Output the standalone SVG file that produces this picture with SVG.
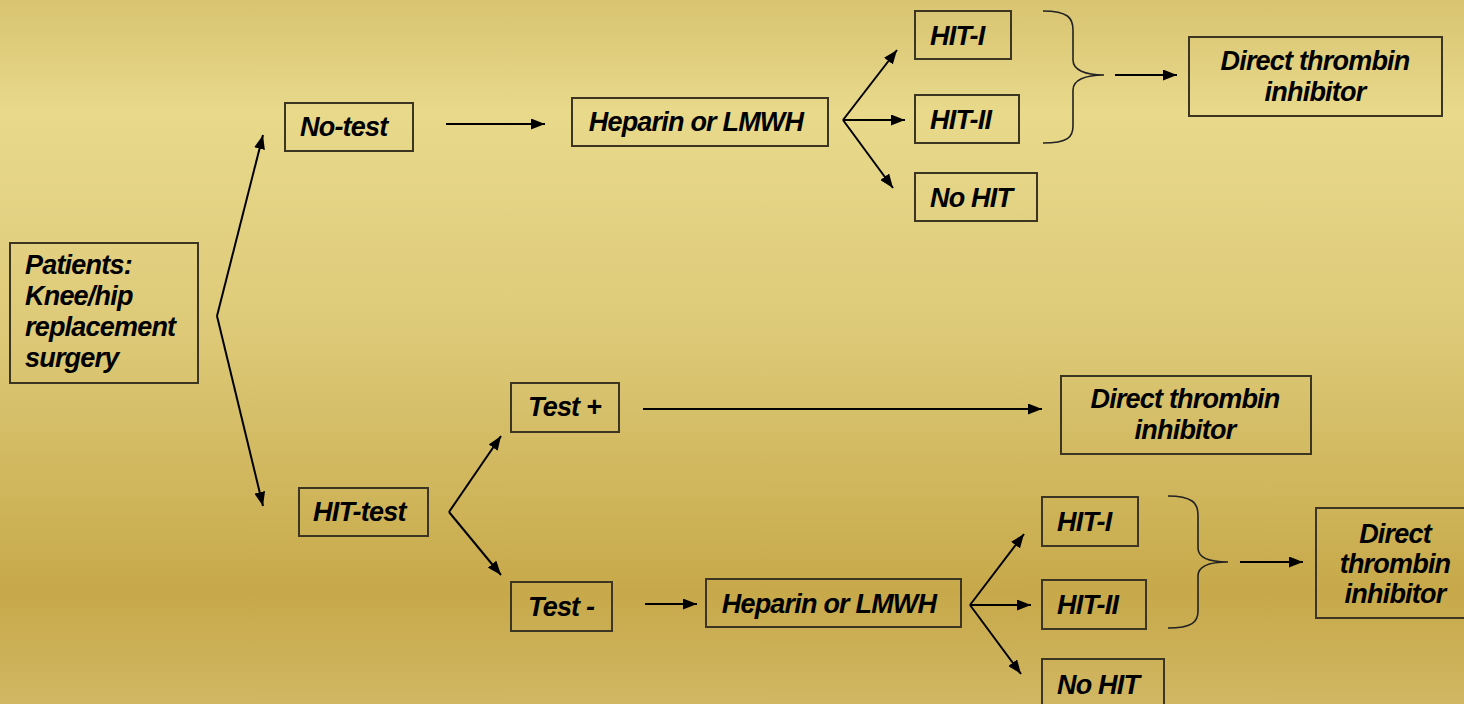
<svg xmlns="http://www.w3.org/2000/svg" width="1464" height="704" viewBox="0 0 1464 704">
  <defs>
    <linearGradient id="bg" x1="0" y1="0" x2="0" y2="1">
      <stop offset="0" stop-color="#D8C471"/>
      <stop offset="0.16" stop-color="#E8D98B"/>
      <stop offset="0.45" stop-color="#DECB7A"/>
      <stop offset="0.84" stop-color="#C7A94A"/>
      <stop offset="1" stop-color="#D1B763"/>
    </linearGradient>
    <marker id="arrow" viewBox="0 0 14 11" refX="14" refY="5.5" markerWidth="14" markerHeight="11" markerUnits="userSpaceOnUse" orient="auto">
      <path d="M0,0 L14,5.5 L0,11 Z" fill="#000"/>
    </marker>
    <style>
      .box { fill: none; stroke: #3B3521; stroke-width: 2; }
      .lbl { font-family: "Liberation Sans", Arial, sans-serif; font-weight: bold; font-style: italic; font-size: 27px; letter-spacing: -0.8px; fill: #000; }
      .mid { text-anchor: middle; }
      .arr { fill: none; stroke: #000; stroke-width: 2; marker-end: url(#arrow); }
      .brace { fill: none; stroke: #222; stroke-width: 1.6; }
    </style>
  </defs>

  <rect x="0" y="0" width="1464" height="704" fill="url(#bg)"/>

  <!-- connectors -->
  <g id="connectors">
    <line class="arr" x1="217" y1="316" x2="263" y2="135"/>
    <line class="arr" x1="217" y1="316" x2="263" y2="506"/>

    <line class="arr" x1="446" y1="124" x2="545" y2="124"/>
    <line class="arr" x1="843" y1="120" x2="897" y2="50"/>
    <line class="arr" x1="843" y1="120" x2="905" y2="120"/>
    <line class="arr" x1="843" y1="120" x2="893" y2="188"/>
    <path class="brace" d="M1043,11 C1068,11 1073,18 1073,30 L1073,60 C1073,70 1085,75 1104,75 C1085,75 1073,80 1073,90 L1073,126 C1073,137 1068,143 1043,143"/>
    <line class="arr" x1="1115" y1="75" x2="1177" y2="75"/>

    <line class="arr" x1="449" y1="512" x2="501" y2="436"/>
    <line class="arr" x1="449" y1="512" x2="501" y2="575"/>
    <line class="arr" x1="643" y1="409" x2="1042" y2="409"/>
    <line class="arr" x1="645" y1="604" x2="697" y2="604"/>
    <line class="arr" x1="970" y1="605" x2="1024" y2="534"/>
    <line class="arr" x1="970" y1="605" x2="1031" y2="605"/>
    <line class="arr" x1="970" y1="605" x2="1021" y2="674"/>
    <path class="brace" d="M1168,496 C1192,496 1198,503 1198,515 L1198,548 C1198,557 1208,562 1228,562 C1208,562 1198,567 1198,576 L1198,611 C1198,622 1192,628 1168,628"/>
    <line class="arr" x1="1240" y1="562" x2="1303" y2="562"/>
  </g>

  <!-- nodes -->
  <g id="patients">
    <rect class="box" x="10" y="243" width="188" height="140"/>
    <text class="lbl" x="25" y="274">Patients:</text>
    <text class="lbl" x="25" y="305">Knee/hip</text>
    <text class="lbl" x="25" y="336">replacement</text>
    <text class="lbl" x="25" y="367">surgery</text>
  </g>

  <g id="no-test">
    <rect class="box" x="285" y="103" width="128" height="48"/>
    <text class="lbl" x="300" y="136">No-test</text>
  </g>

  <g id="heparin-1">
    <rect class="box" x="572" y="98" width="256" height="48"/>
    <text class="lbl mid" x="696" y="131">Heparin or LMWH</text>
  </g>

  <g id="hit1-1">
    <rect class="box" x="915" y="11" width="96" height="48"/>
    <text class="lbl" x="930" y="45">HIT-I</text>
  </g>

  <g id="hit2-1">
    <rect class="box" x="915" y="95" width="104" height="48"/>
    <text class="lbl" x="930" y="129">HIT-II</text>
  </g>

  <g id="nohit-1">
    <rect class="box" x="915" y="173" width="122" height="48"/>
    <text class="lbl" x="930" y="207">No HIT</text>
  </g>

  <g id="dti-1">
    <rect class="box" x="1189" y="37" width="253" height="79"/>
    <text class="lbl mid" x="1315" y="70">Direct thrombin</text>
    <text class="lbl mid" x="1315" y="101">inhibitor</text>
  </g>

  <g id="hit-test">
    <rect class="box" x="299" y="488" width="129" height="48"/>
    <text class="lbl" x="313" y="521">HIT-test</text>
  </g>

  <g id="test-pos">
    <rect class="box" x="511" y="383" width="108" height="49"/>
    <text class="lbl" x="528" y="416">Test +</text>
  </g>

  <g id="dti-2">
    <rect class="box" x="1061" y="376" width="250" height="78"/>
    <text class="lbl mid" x="1185" y="408">Direct thrombin</text>
    <text class="lbl mid" x="1185" y="439">inhibitor</text>
  </g>

  <g id="test-neg">
    <rect class="box" x="511" y="582" width="101" height="49"/>
    <text class="lbl" x="528" y="616">Test -</text>
  </g>

  <g id="heparin-2">
    <rect class="box" x="706" y="579" width="255" height="48"/>
    <text class="lbl mid" x="829" y="613">Heparin or LMWH</text>
  </g>

  <g id="hit1-2">
    <rect class="box" x="1042" y="497" width="96" height="49"/>
    <text class="lbl" x="1057" y="531">HIT-I</text>
  </g>

  <g id="hit2-2">
    <rect class="box" x="1042" y="580" width="104" height="49"/>
    <text class="lbl" x="1057" y="614">HIT-II</text>
  </g>

  <g id="nohit-2">
    <rect class="box" x="1042" y="659" width="122" height="60"/>
    <text class="lbl" x="1057" y="694">No HIT</text>
  </g>

  <g id="dti-3">
    <rect class="box" x="1316" y="508" width="160" height="110"/>
    <text class="lbl mid" x="1395" y="543">Direct</text>
    <text class="lbl mid" x="1395" y="573">thrombin</text>
    <text class="lbl mid" x="1395" y="603">inhibitor</text>
  </g>
</svg>
